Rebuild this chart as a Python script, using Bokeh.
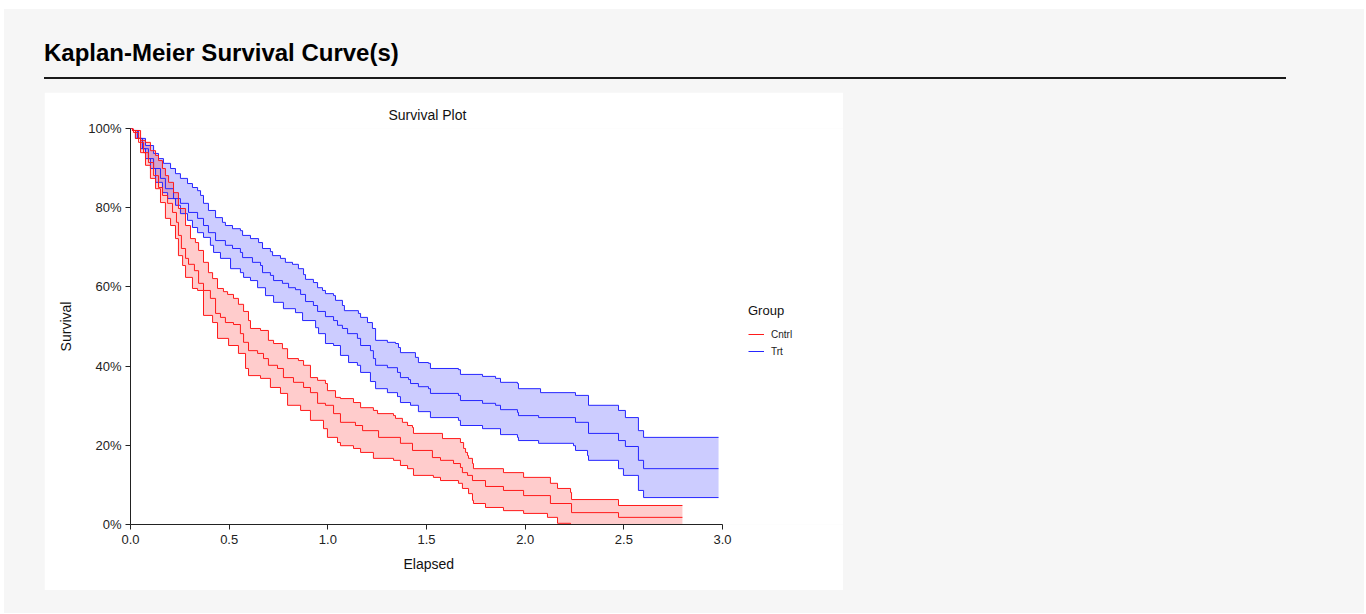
from bokeh.plotting import figure
from bokeh.models import (Range1d, NumeralTickFormatter, FixedTicker, Legend,
                          LegendItem, Div, Title)
from bokeh.layouts import column
from bokeh.embed import file_html
from bokeh.resources import INLINE

# ---------------- data ----------------
groups = ["Cntrl", "Trt"]
end_time = {"Cntrl": 2.797, "Trt": 2.980}

cntrl_t = [0.000, 0.015, 0.041, 0.066, 0.091, 0.117, 0.142, 0.162, 0.188, 0.213,
           0.233, 0.243, 0.258, 0.279, 0.294, 0.324, 0.345, 0.370, 0.405, 0.431,
           0.456, 0.481, 0.522, 0.557, 0.573, 0.598, 0.644, 0.674, 0.699, 0.745,
           0.775, 0.826, 0.877, 0.912, 0.948, 0.988, 1.029, 1.064, 1.140, 1.176,
           1.257, 1.368, 1.429, 1.530, 1.571, 1.637, 1.672, 1.682, 1.708, 1.733,
           1.799, 1.890, 1.992, 2.128, 2.235, 2.473]
cntrl_s = [1.000, 0.990, 0.965, 0.939, 0.914, 0.881, 0.851, 0.831, 0.811, 0.788,
           0.763, 0.730, 0.697, 0.672, 0.657, 0.641, 0.609, 0.591, 0.571, 0.533,
           0.523, 0.510, 0.505, 0.482, 0.460, 0.439, 0.432, 0.419, 0.402, 0.394,
           0.371, 0.359, 0.346, 0.333, 0.306, 0.301, 0.280, 0.258, 0.250, 0.237,
           0.220, 0.205, 0.187, 0.169, 0.162, 0.154, 0.144, 0.131, 0.124, 0.111,
           0.096, 0.086, 0.073, 0.053, 0.030, 0.018]

cntrl_hi_t = [0.000, 0.010, 0.051, 0.076, 0.101, 0.127, 0.142, 0.162, 0.177, 0.193,
              0.218, 0.243, 0.279, 0.304, 0.329, 0.345, 0.370, 0.395, 0.416, 0.441,
              0.471, 0.492, 0.522, 0.547, 0.573, 0.598, 0.608, 0.659, 0.699, 0.725,
              0.770, 0.796, 0.851, 0.877, 0.912, 0.948, 0.988, 0.998, 1.039, 1.064,
              1.130, 1.166, 1.231, 1.252, 1.333, 1.343, 1.378, 1.404, 1.429, 1.434,
              1.581, 1.672, 1.688, 1.698, 1.708, 1.713, 1.733, 1.738, 1.890, 1.992,
              2.128, 2.164, 2.230, 2.235, 2.473]
cntrl_hi = [1.000, 0.995, 0.970, 0.965, 0.944, 0.932, 0.919, 0.899, 0.881, 0.864,
            0.838, 0.798, 0.755, 0.722, 0.712, 0.692, 0.662, 0.636, 0.621, 0.596,
            0.588, 0.581, 0.571, 0.556, 0.538, 0.515, 0.495, 0.490, 0.465, 0.457,
            0.444, 0.419, 0.414, 0.402, 0.371, 0.364, 0.356, 0.338, 0.321, 0.318,
            0.308, 0.295, 0.288, 0.280, 0.275, 0.268, 0.258, 0.250, 0.245, 0.230,
            0.217, 0.207, 0.192, 0.182, 0.174, 0.167, 0.154, 0.141, 0.131, 0.119,
            0.104, 0.091, 0.081, 0.063, 0.048]

cntrl_lo_t = [0.000, 0.010, 0.025, 0.051, 0.076, 0.101, 0.127, 0.152, 0.177, 0.203,
              0.228, 0.243, 0.264, 0.279, 0.314, 0.340, 0.370, 0.416, 0.441, 0.497,
              0.547, 0.583, 0.598, 0.659, 0.709, 0.760, 0.796, 0.862, 0.912, 0.978,
              0.998, 1.049, 1.064, 1.130, 1.166, 1.231, 1.333, 1.368, 1.404, 1.434,
              1.535, 1.571, 1.662, 1.682, 1.713, 1.733, 1.738, 1.799, 1.890, 1.992,
              2.113, 2.164, 2.230]
cntrl_lo = [1.000, 0.995, 0.975, 0.939, 0.907, 0.874, 0.848, 0.813, 0.773, 0.755,
            0.722, 0.679, 0.654, 0.624, 0.596, 0.591, 0.528, 0.510, 0.470, 0.452,
            0.432, 0.394, 0.376, 0.369, 0.346, 0.331, 0.301, 0.288, 0.263, 0.242,
            0.220, 0.207, 0.199, 0.192, 0.182, 0.167, 0.162, 0.149, 0.141, 0.124,
            0.119, 0.111, 0.104, 0.091, 0.078, 0.061, 0.053, 0.043, 0.035, 0.028,
            0.018, 0.003, 0.000]

trt_t = [0.000, 0.010, 0.035, 0.061, 0.091, 0.117, 0.152, 0.177, 0.218, 0.253,
         0.294, 0.340, 0.370, 0.395, 0.431, 0.481, 0.517, 0.557, 0.568, 0.618,
         0.659, 0.669, 0.709, 0.725, 0.770, 0.801, 0.836, 0.862, 0.887, 0.927,
         0.948, 0.988, 1.029, 1.049, 1.074, 1.100, 1.150, 1.166, 1.216, 1.231,
         1.242, 1.302, 1.353, 1.368, 1.409, 1.419, 1.459, 1.510, 1.520, 1.662,
         1.672, 1.784, 1.850, 1.875, 1.961, 1.966, 2.068, 2.255, 2.321, 2.473,
         2.508, 2.574, 2.600]
trt_s = [1.000, 0.995, 0.975, 0.949, 0.924, 0.899, 0.874, 0.848, 0.823, 0.811,
         0.788, 0.773, 0.755, 0.737, 0.717, 0.705, 0.697, 0.687, 0.674, 0.662,
         0.654, 0.636, 0.629, 0.616, 0.609, 0.598, 0.593, 0.581, 0.563, 0.553,
         0.538, 0.525, 0.515, 0.503, 0.495, 0.482, 0.470, 0.452, 0.439, 0.419,
         0.402, 0.396, 0.384, 0.371, 0.366, 0.356, 0.348, 0.343, 0.331, 0.326,
         0.313, 0.306, 0.301, 0.290, 0.283, 0.275, 0.270, 0.258, 0.230, 0.212,
         0.197, 0.162, 0.141]

trt_hi_t = [0.000, 0.010, 0.041, 0.076, 0.117, 0.142, 0.167, 0.203, 0.228, 0.253,
            0.289, 0.314, 0.340, 0.355, 0.370, 0.395, 0.431, 0.466, 0.481, 0.517,
            0.557, 0.568, 0.608, 0.649, 0.669, 0.709, 0.720, 0.760, 0.785, 0.821,
            0.851, 0.877, 0.887, 0.927, 0.948, 0.973, 0.988, 1.029, 1.039, 1.074,
            1.084, 1.155, 1.166, 1.201, 1.226, 1.242, 1.302, 1.343, 1.358, 1.368,
            1.444, 1.459, 1.510, 1.520, 1.662, 1.672, 1.784, 1.850, 1.875, 1.961,
            1.966, 2.078, 2.255, 2.321, 2.473, 2.508, 2.574, 2.600]
trt_hi = [1.000, 0.995, 0.975, 0.957, 0.937, 0.924, 0.912, 0.899, 0.886, 0.874,
          0.861, 0.851, 0.843, 0.831, 0.811, 0.793, 0.775, 0.763, 0.755, 0.747,
          0.742, 0.730, 0.722, 0.712, 0.697, 0.689, 0.679, 0.672, 0.662, 0.657,
          0.646, 0.631, 0.619, 0.611, 0.598, 0.591, 0.583, 0.578, 0.566, 0.553,
          0.540, 0.533, 0.523, 0.510, 0.495, 0.465, 0.460, 0.457, 0.447, 0.434,
          0.422, 0.409, 0.407, 0.394, 0.391, 0.379, 0.374, 0.369, 0.359, 0.356,
          0.343, 0.333, 0.326, 0.301, 0.288, 0.270, 0.237, 0.220]

trt_lo_t = [0.000, 0.010, 0.025, 0.051, 0.076, 0.101, 0.127, 0.162, 0.188, 0.228,
            0.253, 0.289, 0.314, 0.340, 0.370, 0.405, 0.421, 0.456, 0.507, 0.557,
            0.573, 0.608, 0.644, 0.684, 0.725, 0.775, 0.836, 0.872, 0.938, 0.953,
            0.988, 1.029, 1.064, 1.105, 1.150, 1.166, 1.216, 1.242, 1.302, 1.353,
            1.368, 1.419, 1.459, 1.520, 1.662, 1.672, 1.784, 1.875, 1.961, 1.966,
            2.068, 2.245, 2.255, 2.316, 2.321, 2.473, 2.498, 2.574, 2.600]
trt_lo = [1.000, 0.995, 0.975, 0.949, 0.924, 0.899, 0.864, 0.838, 0.823, 0.806,
          0.785, 0.768, 0.750, 0.737, 0.725, 0.705, 0.687, 0.672, 0.646, 0.636,
          0.624, 0.616, 0.598, 0.578, 0.561, 0.545, 0.535, 0.515, 0.497, 0.482,
          0.457, 0.452, 0.427, 0.409, 0.402, 0.384, 0.361, 0.343, 0.333, 0.323,
          0.308, 0.301, 0.285, 0.270, 0.263, 0.250, 0.242, 0.227, 0.220, 0.212,
          0.205, 0.199, 0.187, 0.174, 0.162, 0.141, 0.124, 0.086, 0.068]

x_ticks = [0.0, 0.5, 1.0, 1.5, 2.0, 2.5, 3.0]
y_ticks = [0.0, 0.2, 0.4, 0.6, 0.8, 1.0]
x_axis_max = 3.0

FONT = "Liberation Sans"

# layout constants (pixels)
W, H = 799, 498
B_LEFT, B_TOP, B_BOTTOM = 86, 36, 66
AXIS_PX = 592            # on-screen length of the 0..3 axis
FRAME_PX = W - B_LEFT    # frame extends under the legend area


def step_path(t, s, t_end):
    xs, ys = [], []
    for i in range(len(t)):
        if i > 0:
            xs.append(t[i]); ys.append(s[i - 1])
        xs.append(t[i]); ys.append(s[i])
    xs.append(t_end); ys.append(s[-1])
    return xs, ys


p = figure(width=W, height=H, output_backend="svg", toolbar_location=None,
           x_range=Range1d(0, x_axis_max * FRAME_PX / AXIS_PX), y_range=Range1d(0, 1),
           min_border_left=B_LEFT, min_border_right=0, min_border_top=B_TOP,
           min_border_bottom=B_BOTTOM, title="Survival Plot")
p.outline_line_color = None
p.background_fill_color = "white"
p.border_fill_color = "white"
p.grid.visible = False

p.title.align = "left"
p.title.offset = 258
p.title.text_font = FONT
p.title.text_font_size = "14px"
p.title.text_font_style = "normal"
p.title.text_color = "#111111"
p.title.standoff = 11

series = {
    "Cntrl": (cntrl_t, cntrl_s, cntrl_lo_t, cntrl_lo, cntrl_hi_t, cntrl_hi, "#ff1a1a", "#ff0000"),
    "Trt": (trt_t, trt_s, trt_lo_t, trt_lo, trt_hi_t, trt_hi, "#2626ff", "#0000ff"),
}

est_renderers = {}
for g in ["Trt", "Cntrl"]:
    t, s, lt, lo, ht, hi, lc, fc = series[g]
    te = end_time[g]
    hx, hy = step_path(ht, hi, te)
    lx, ly = step_path(lt, lo, te)
    p.patch(hx + lx[::-1], hy + ly[::-1], fill_color=fc, fill_alpha=0.2,
            line_color=None)
for g in ["Trt", "Cntrl"]:
    t, s, lt, lo, ht, hi, lc, fc = series[g]
    te = end_time[g]
    hx, hy = step_path(ht, hi, te)
    lx, ly = step_path(lt, lo, te)
    ex, ey = step_path(t, s, te)
    p.line(hx, hy, line_color=lc, line_width=1)
    p.line(lx, ly, line_color=lc, line_width=1)
    est_renderers[g] = p.line(ex, ey, line_color=lc, line_width=1)

# axes
for ax in (p.xaxis[0], p.yaxis[0]):
    ax.axis_line_color = "#222222"
    ax.major_tick_line_color = "#222222"
    ax.minor_tick_line_color = None
    ax.major_tick_in = 0
    ax.major_tick_out = 5
    ax.major_label_text_font = FONT
    ax.major_label_text_font_size = "13px"
    ax.major_label_text_color = "#222222"
    ax.axis_label_text_font = FONT
    ax.axis_label_text_font_size = "14px"
    ax.axis_label_text_font_style = "normal"
    ax.axis_label_text_color = "#111111"

p.xaxis.ticker = FixedTicker(ticks=x_ticks)
p.xaxis.formatter = NumeralTickFormatter(format="0.0")
p.xaxis.bounds = (0, x_axis_max)
p.xaxis.major_label_standoff = 5

# x-axis label centred under the 0..3 axis (not under the wider frame)
x_label = Title(text="Elapsed", align="left", offset=273, standoff=14,
                text_font=FONT, text_font_size="14px", text_font_style="normal",
                text_color="#111111")
p.add_layout(x_label, "below")

p.yaxis.ticker = FixedTicker(ticks=y_ticks)
p.yaxis.formatter = NumeralTickFormatter(format="0%")
p.yaxis.axis_label = "Survival"
p.yaxis.major_label_standoff = 4
p.yaxis.axis_label_standoff = 11

legend = Legend(items=[LegendItem(label=g, renderers=[est_renderers[g]]) for g in groups],
                title="Group", location=(608, 156), orientation="vertical",
                border_line_alpha=0, background_fill_alpha=0,
                label_text_font=FONT, label_text_font_size="10px",
                label_text_color="#222222",
                title_text_font=FONT, title_text_font_size="13px",
                title_text_font_style="normal", title_text_color="#111111",
                glyph_width=16, glyph_height=14, label_height=14,
                label_standoff=7, spacing=3, padding=10, margin=0,
                title_standoff=9)
p.add_layout(legend, "center")

p.margin = (7, 0, 23, 40)

header = Div(
    text=('<div style="margin:0 0 0 40px; padding:30px 0 0 0; width:1242px; '
          'height:70px; box-sizing:border-box; font-family:\'Liberation Sans\', Arial, sans-serif; '
          'font-size:24px; font-weight:bold; color:#000; line-height:28px; '
          'border-bottom:2px solid #1a1a1a;">Kaplan-Meier Survival Curve(s)</div>'),
    width=1360, height=76, margin=(0, 0, 0, 0))

root = column(header, p, styles={"background-color": "#f6f6f6"},
              margin=(9, 0, 0, 4))

open("out.html", "w").write(file_html(root, INLINE))
